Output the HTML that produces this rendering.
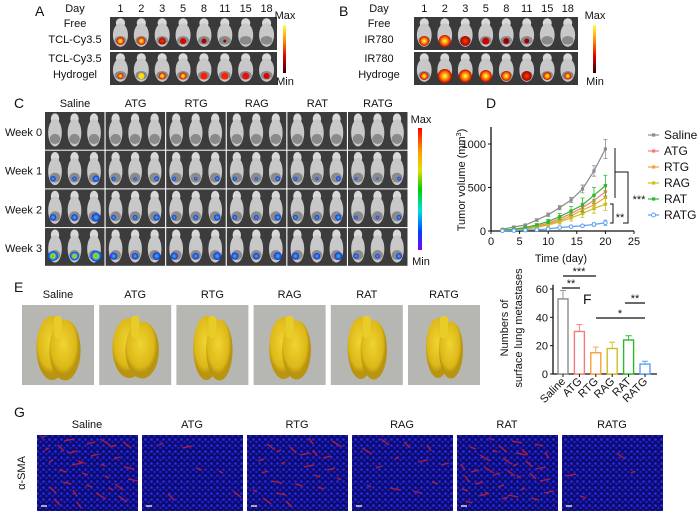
<!DOCTYPE html>
<html><head><meta charset="utf-8"><style>
html,body{margin:0;padding:0;background:#fff;width:700px;height:515px;overflow:hidden}
svg{display:block;font-family:"Liberation Sans",sans-serif}
</style></head><body>
<svg id="fig" width="700" height="515" viewBox="0 0 700 515">
<defs>
<linearGradient id="heat" x1="0" y1="0" x2="0" y2="1"><stop offset="0" stop-color="#ffff40"/><stop offset="0.35" stop-color="#ff8000"/><stop offset="0.65" stop-color="#e00000"/><stop offset="1" stop-color="#300000"/></linearGradient>
<linearGradient id="rainbow" x1="0" y1="0" x2="0" y2="1"><stop offset="0" stop-color="#ff0000"/><stop offset="0.2" stop-color="#ffa000"/><stop offset="0.35" stop-color="#e0e000"/><stop offset="0.5" stop-color="#00d000"/><stop offset="0.68" stop-color="#00e0e0"/><stop offset="0.85" stop-color="#0040ff"/><stop offset="1" stop-color="#8000ff"/></linearGradient>
<radialGradient id="blobY"><stop offset="0" stop-color="#ffff60"/><stop offset="0.5" stop-color="#ff9000"/><stop offset="1" stop-color="#d00000"/></radialGradient>
<radialGradient id="blobR"><stop offset="0" stop-color="#ff4000"/><stop offset="1" stop-color="#a00000"/></radialGradient>
<radialGradient id="blobC"><stop offset="0" stop-color="#ff2000"/><stop offset="0.3" stop-color="#e0e000"/><stop offset="0.6" stop-color="#00c0c0"/><stop offset="1" stop-color="#2020ff"/></radialGradient>
<radialGradient id="blobB"><stop offset="0" stop-color="#30d0a0"/><stop offset="1" stop-color="#2020ff"/></radialGradient>
<radialGradient id="lungG" cx="0.45" cy="0.4"><stop offset="0" stop-color="#f0d430"/><stop offset="0.8" stop-color="#dcb818"/><stop offset="1" stop-color="#b89410"/></radialGradient>
<pattern id="cells" width="6" height="6" patternUnits="userSpaceOnUse"><rect width="6" height="6" fill="#0c0c70"/><circle cx="1.5" cy="1.5" r="1.3" fill="#2a2af0"/><circle cx="4.5" cy="4" r="1.2" fill="#2020c8"/></pattern>
</defs>
<g id="panels"></g>
</svg>
<script>
const NS='http://www.w3.org/2000/svg';
const root=document.getElementById('panels');
function el(tag,attrs,parent,txt){const e=document.createElementNS(NS,tag);for(const k in attrs)e.setAttribute(k,attrs[k]);if(txt!==undefined)e.textContent=txt;(parent||root).appendChild(e);return e;}
function txt(x,y,s,size,anchor,parent,name,extra){const t=el('text',Object.assign({x:x,y:y,'font-size':size,'text-anchor':anchor||'middle',fill:'#111'},extra||{}),parent,s);


return t;}
function mouse(g,cx,top,w,h){
 el('ellipse',{cx:cx,cy:top+h*0.16,rx:w*0.22,ry:h*0.15,fill:'#d8d8d8'},g);
 el('ellipse',{cx:cx,cy:top+h*0.55,rx:w*0.36,ry:h*0.38,fill:'#c8c8c8'},g);
 el('ellipse',{cx:cx,cy:top+h*0.72,rx:w*0.28,ry:h*0.14,fill:'#8a8a8a'},g);
}
// ---------- Panel A & B ----------
const days=['1','2','3','5','8','11','15','18'];
function ivis(ox,letter,l1,l2,l3,l4,cbx,blobs){
 const g=el('g',{});
 
 
 txt(ox-75,16,letter,14,'start',g,'panel-letter');
 txt(ox-35,12,'Day',11,'middle',g,'day-label');
 const pitch=(l4.w)/8;
 days.forEach((d,i)=>txt(ox+pitch*(i+0.5),12,d,11,'middle',g,'day-number'));
 txt(ox-35,27,l1[0],11,'middle',g,'row1-label');txt(ox-35,43,l1[1],11,'middle',g,'row1-label');
 txt(ox-35,62,l2[0],11,'middle',g,'row2-label');txt(ox-35,78,l2[1],11,'middle',g,'row2-label');
 [17,52].forEach((y,r)=>{
  el('rect',{x:ox,y:y,width:l4.w,height:33,fill:'#3a3a3a'},g);
  for(let i=0;i<8;i++){const cx=ox+pitch*(i+0.5);mouse(g,cx,y+1,pitch,31);
   const b=blobs[r][i]; if(b) el('circle',{cx:cx,cy:y+24,r:b[0],fill:b[1]},g);}
 });
 el('rect',{x:cbx,y:25,width:3,height:48,fill:'url(#heat)'},g);
 txt(cbx+2,19,'Max',11,'middle',g,'colorbar-max');
 txt(cbx+2,85,'Min',11,'middle',g,'colorbar-min');
}
ivis(110,'A',['Free','TCL-Cy3.5'],['TCL-Cy3.5','Hydrogel'],0,{w:167},283,
 [[[4,'url(#blobY)'],[4,'url(#blobY)'],[3.5,'url(#blobR)'],[3,'#e00000'],[2.5,'#b00000'],[1.5,'#a00000'],null,null],
  [[3,'url(#blobY)'],[3,'#ffe000'],[3.5,'url(#blobY)'],[3.5,'url(#blobY)'],[3.5,'#ff2000'],[3.5,'#ff2000'],[3.5,'#e81010'],[3,'#e00000']]]);
ivis(414,'B',['Free','IR780'],['IR780','Hydroge'],0,{w:164},593,
 [[[5,'url(#blobY)'],[6,'url(#blobY)'],[5,'url(#blobR)'],[3.5,'#d00000'],[3,'#a00000'],[2.5,'#a00000'],null,null],
  [[4,'url(#blobY)'],[7,'url(#blobY)'],[6.5,'url(#blobY)'],[6,'url(#blobY)'],[5,'url(#blobY)'],[5,'url(#blobR)'],[4,'url(#blobY)'],[3.5,'url(#blobY)']]]);
// ---------- Panel C ----------
(function(){
 const g=el('g',{});
 
 
 txt(14,108,'C',14,'start',g,'panel-letter');
 const groups=['Saline','ATG','RTG','RAG','RAT','RATG'];
 const sizes=[[0,0,0],[2.5,2,3],[3,3,4],[4.5,4,5]];
 groups.forEach((n,gi)=>{
  const x0=45+gi*60.6;
  txt(x0+30,107,n,11,'middle',g,'group-label');
  for(let r=0;r<4;r++){
   const y0=112+r*38.7;
   el('rect',{x:x0,y:y0,width:59.5,height:37.7,fill:'#3c3c3c'},g);
   for(let m=0;m<3;m++){const cx=x0+10+m*19.5;mouse(g,cx,y0+1,19,36);
    if(r>0){const s=sizes[r][m]*(gi==0?1.1:(gi==5?0.6:0.8));el('circle',{cx:cx+(m-1)*2,cy:y0+28,r:s,fill:gi==0&&r==3?'url(#blobC)':'url(#blobB)'},g);}}
  }
 });
 ['Week 0','Week 1','Week 2','Week 3'].forEach((w,r)=>txt(5,136+r*38.7,w,11,'start',g,'week-label'));
 el('rect',{x:418,y:128,width:4,height:122,fill:'url(#rainbow)'},g);
 txt(421,123,'Max',11,'middle',g,'colorbar-max');
 txt(421,265,'Min',11,'middle',g,'colorbar-min');
})();
// ---------- Panel E ----------
(function(){
 const g=el('g',{});
 
 
 txt(14,292,'E',14,'start',g,'panel-letter');
 const groups=['Saline','ATG','RTG','RAG','RAT','RATG'];
 const shapes=[[26,32],[28,30],[22,32],[24,31],[22,31],[20,30]];
 groups.forEach((n,i)=>{
  const x0=22+i*77.2;
  txt(x0+36,298,n,11,'middle',g,'group-label');
  el('rect',{x:x0,y:305,width:72,height:80,fill:'#b6b6b2'},g);
  const cx=x0+36,cy=346;
  el('ellipse',{cx:cx-6,cy:cy+2,rx:shapes[i][0]*0.6,ry:shapes[i][1],fill:'url(#lungG)'},g);
  el('ellipse',{cx:cx+7,cy:cy+4,rx:shapes[i][0]*0.6,ry:shapes[i][1]*0.95,fill:'url(#lungG)'},g);
  el('rect',{x:cx-4,y:cy-30,width:8,height:22,rx:3,fill:'#e8cc28'},g);
 });
})();
// ---------- Panel G ----------
(function(){
 const g=el('g',{});
 
 
 txt(14,417,'G',14,'start',g,'panel-letter');
 const groups=['Saline','ATG','RTG','RAG','RAT','RATG'];
 const red=[30,6,22,12,34,4];
 groups.forEach((n,i)=>{
  const x0=37+i*105;
  txt(x0+50,428,n,11,'middle',g,'group-label');
  el('rect',{x:x0,y:435,width:101,height:76,fill:'url(#cells)'},g);
  for(let k=0;k<red[i];k++){
   const px=x0+4+((k*37+i*13)%88), py=438+((k*23+i*7)%66);
   const dx=4+(k%4)*2, dy=((k%3)-1)*4+2;
   el('line',{x1:px,y1:py,x2:px+dx,y2:py+dy,stroke:'#e02020','stroke-width':1.3,opacity:0.8},g);
  }
  el('rect',{x:x0+4,y:505,width:6,height:2,fill:'#aaa'},g);
 });
 txt(0,0,'α-SMA',11,'middle',g,'row-label',{transform:'translate(25,473) rotate(-90)'});
})();
</script>
<script>
// ---------- Panel D : tumor volume ----------
const dDays=[2,4,6,8,10,12,14,16,18,20];
const dSeriesNames=['Saline','ATG','RTG','RAG','RAT','RATG'];
const dSaline=[20,46,69,126,187,268,356,483,690,943];
const dATG=[8,15,30,55,90,140,200,270,350,452];
const dRTG=[6,12,25,48,80,120,175,240,300,387];
const dRAG=[5,10,20,40,70,105,150,200,260,307];
const dRAT=[10,20,40,70,110,165,230,299,410,521];
const dRATG=[3,5,10,15,25,40,50,60,75,95];
const dErr=[[5,8,10,15,20,25,30,45,60,110],[3,5,8,12,15,25,35,50,60,80],[3,5,8,12,15,25,35,45,55,70],[3,5,8,12,15,25,35,45,55,70],[4,6,10,15,25,35,50,80,90,120],[2,3,4,5,6,8,10,15,20,30]];
const dXTicks=[0,5,10,15,20,25];
const dYTicks=[0,500,1000];
const fCats=['Saline','ATG','RTG','RAG','RAT','RATG'];
const fVals=[53,30,15,18,24,7];
const fErr=[6,5,4,4.5,3,2];
const fYTicks=[0,20,40,60];
const colors=['#8c8c8c','#f47a7a','#f5a040','#c8c020','#2db82d','#5aa0f0'];
(function(){
 const g=el('g',{});
 
 
 txt(486,108,'D',14,'start',g,'panel-letter');
 const X=d=>491+d*5.72, Y=v=>231-v*0.087;
 const series=[dSaline,dATG,dRTG,dRAG,dRAT,dRATG];
 const ax=el('path',{d:`M${X(0)},127V${Y(0)}H${X(25)}`,stroke:'#111',fill:'none','stroke-width':1.3},g);
 
 dXTicks.forEach(t=>{el('line',{x1:X(t),x2:X(t),y1:Y(0),y2:Y(0)+3,stroke:'#111'},g);txt(X(t),245,String(t),11,'middle',g,'x-tick-label');});
 dYTicks.forEach(t=>{el('line',{x1:X(0)-3,x2:X(0),y1:Y(t),y2:Y(t),stroke:'#111'},g);txt(X(0)-5,Y(t)+4,String(t),11,'end',g,'y-tick-label');});
 txt(561,262,'Time (day)',11,'middle',g,'x-axis-title');
 const yt=txt(0,0,'Tumor volume (mm',11,'middle',g,'y-axis-title',{transform:'translate(465,180) rotate(-90)'});
 el('tspan',{'font-size':7,dy:-4},yt,'3');el('tspan',{dy:4},yt,')');
 series.forEach((s,si)=>{
  const c=colors[si];
  s.forEach((v,i)=>{const e=dErr[si][i];
   const eb=el('path',{d:`M${X(dDays[i])},${Y(v+e)}V${Y(v-e)}M${X(dDays[i])-2},${Y(v+e)}h4M${X(dDays[i])-2},${Y(v-e)}h4`,stroke:c,'stroke-width':0.8,fill:'none'},g);
   
  });
  const ln=el('polyline',{points:s.map((v,i)=>X(dDays[i])+','+Y(v)).join(' '),fill:'none',stroke:c,'stroke-width':1.2},g);
  
  
  s.forEach((v,i)=>{
   const p=si==5?el('circle',{cx:X(dDays[i]),cy:Y(v),r:1.8,fill:'#fff',stroke:c,'stroke-width':1},g):el('rect',{x:X(dDays[i])-1.6,y:Y(v)-1.6,width:3.2,height:3.2,fill:c},g);
   
   
  });
  const ly=135+si*16;
  const le=el('line',{x1:648,x2:659,y1:ly,y2:ly,stroke:c,'stroke-width':1.2},g);
  
  
  if(si==5)el('circle',{cx:653.5,cy:ly,r:2,fill:'#fff',stroke:c},g);else el('rect',{x:652,y:ly-1.6,width:3.2,height:3.2,fill:c},g);
  txt(664,ly+4,dSeriesNames[si],12,'start',g,'legend-label');
 });
 el('path',{d:'M615,148V198M615,172H628V223H623',stroke:'#111',fill:'none','stroke-width':1},g);
 el('path',{d:'M610,204H613V223H610',stroke:'#111',fill:'none','stroke-width':1},g);
 txt(620,221,'**',11,'middle',g,'significance');
 txt(639,203,'***',11,'middle',g,'significance');
})();
// ---------- Panel F : lung metastases ----------
(function(){
 const g=el('g',{});
 
 
 txt(583,304,'F',14,'start',g,'panel-letter');
 const Y=v=>374-v*85/60, X=i=>563+i*16.4;
 el('path',{d:`M553,${Y(63)}V374H657`,stroke:'#111',fill:'none','stroke-width':1.3},g);
 fYTicks.forEach(t=>{el('line',{x1:550,x2:553,y1:Y(t),y2:Y(t),stroke:'#111'},g);txt(548,Y(t)+4,String(t),11,'end',g,'y-tick-label');});
 fCats.forEach((c,i)=>{
  const b=el('rect',{x:X(i)-5,y:Y(fVals[i]),width:10,height:374-Y(fVals[i]),fill:'#fff',stroke:colors[i],'stroke-width':1.4},g);
  
  
  el('path',{d:`M${X(i)},${Y(fVals[i])}V${Y(fVals[i]+fErr[i])}M${X(i)-3},${Y(fVals[i]+fErr[i])}h6`,stroke:colors[i],fill:'none','stroke-width':0.9},g);
  el('line',{x1:X(i),x2:X(i),y1:374,y2:377,stroke:'#111'},g);
  txt(0,0,c,11,'end',g,'x-tick-label',{transform:`translate(${X(i)+3},382) rotate(-45)`});
 });
 txt(0,0,'Numbers of',11,'middle',g,'y-axis-title',{transform:'translate(508,328) rotate(-90)'});
 txt(0,0,'surface lung metastases',11,'middle',g,'y-axis-title',{transform:'translate(522,328) rotate(-90)'});
 el('line',{x1:562,x2:580,y1:288,y2:288,stroke:'#111','stroke-width':1.3},g);txt(571,287,'**',11,'middle',g,'significance');
 el('line',{x1:563,x2:596,y1:276,y2:276,stroke:'#111','stroke-width':1.3},g);txt(579,275,'***',11,'middle',g,'significance');
 el('line',{x1:596,x2:645,y1:318,y2:318,stroke:'#111','stroke-width':1.3},g);txt(620,317,'*',11,'middle',g,'significance');
 el('line',{x1:625,x2:645,y1:303,y2:303,stroke:'#111','stroke-width':1.3},g);txt(635,302,'**',11,'middle',g,'significance');
})();
</script>
</body></html>
